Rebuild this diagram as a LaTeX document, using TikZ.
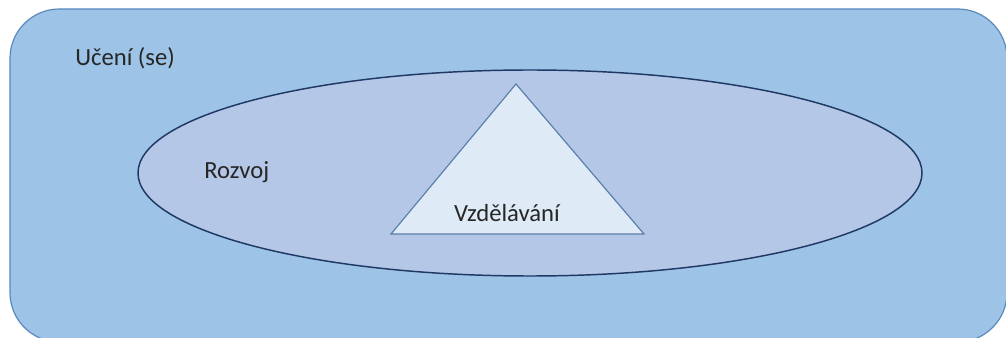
\documentclass[tikz,border=0pt]{standalone}
\usepackage{fontspec}
\setmainfont{Carlito}
\usetikzlibrary{shapes.geometric}
\definecolor{outerfill}{HTML}{9DC3E6}
\definecolor{outerline}{HTML}{5A89BD}
\definecolor{ellfill}{HTML}{B4C7E7}
\definecolor{ellline}{HTML}{1F3864}
\definecolor{trifill}{HTML}{DEEBF7}
\definecolor{triline}{HTML}{5B7FAA}
\definecolor{txt}{HTML}{262626}
\tikzset{
  lbl/.style={font=\fontsize{18.5}{22}\selectfont, text=txt, inner sep=0pt},
  outerbox/.style={fill=outerfill, draw=outerline, line width=0.9pt, rounded corners=37pt},
  devell/.style={ellipse, fill=ellfill, draw=ellline, line width=1.1pt, inner sep=0pt},
  edutri/.style={fill=trifill, draw=triline, line width=0.9pt, line join=miter},
}
\begin{document}
\begin{tikzpicture}[x=0.75pt,y=-0.75pt]
  \useasboundingbox (0,0) rectangle (1006,338);
  \clip (0,0) rectangle (1006,338);
  % learning: outer rounded frame
  \draw[outerbox] (10,9) rectangle (1007,342);
  \node[lbl, anchor=west] (uceni) at (75,58) {Učení (se)};
  % development: ellipse
  \node[devell, minimum width=588pt, minimum height=154.5pt] (rozvoj) at (530,173) {};
  \node[lbl, anchor=west] (rozvojlbl) at (204,172) {Rozvoj};
  % education: triangle
  \coordinate (apex) at (516,84);
  \coordinate (bl) at (391,234);
  \coordinate (br) at (644,234);
  \draw[edutri] (apex) -- (br) -- (bl) -- cycle;
  \node[lbl] (vzdel) at (507,213) {Vzdělávání};
\end{tikzpicture}
\end{document}
